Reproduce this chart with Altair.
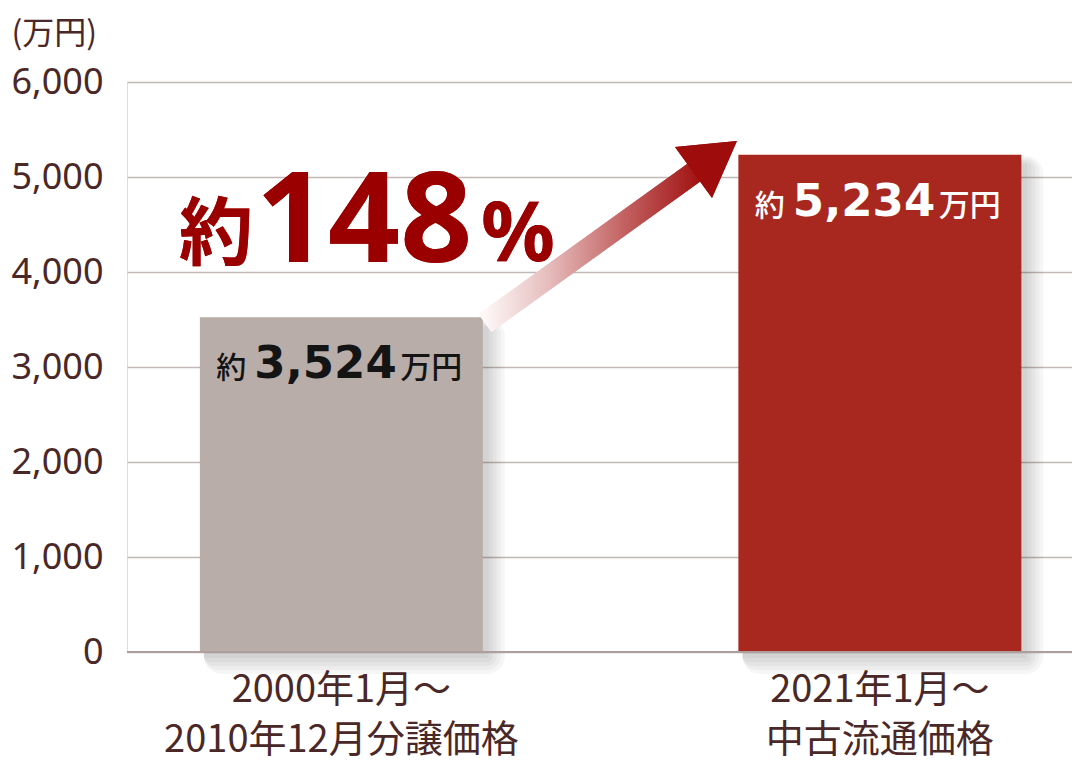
import altair as alt
import pandas as pd

# ---- data ----
categories = ["2000年1月～\n2010年12月分譲価格", "2021年1月～\n中古流通価格"]
values = [3524, 5234]
value_text = ["3,524", "5,234"]
pct_text = "148"
y_ticks = [0, 1000, 2000, 3000, 4000, 5000, 6000]

# ---- styles ----
bar_colors = ["#b8ada8", "#a8281f"]
label_colors = ["#141414", "#ffffff"]
text_brown = "#4a2828"
grid_col = "#c4b8b6"
accent = "#9b0000"

df = pd.DataFrame({
    "category": categories,
    "value": values,
    "vtext": value_text,
    "lcolor": label_colors,
})

W, H = 945, 570
xscale = alt.Scale(domain=categories, paddingInner=0.4745, paddingOuter=0.1147, align=0.59)
yscale = alt.Scale(domain=[0, 6000], nice=False)

X = alt.X("category:N", scale=xscale, sort=categories,
          axis=alt.Axis(title=None, labelAngle=0, domain=False, ticks=False,
                        labelExpr="split(datum.label, '\\n')",
                        labelFont="Noto Sans CJK JP", labelFontSize=38,
                        labelColor=text_brown, labelLineHeight=50,
                        labelPadding=19, labelLimit=600))
Y = alt.Y("value:Q", scale=yscale,
          axis=alt.Axis(values=y_ticks, labelExpr="format(datum.value, ',')",
                        title="(万円)", titleAngle=0, titleAlign="left",
                        titleBaseline="middle", titleX=-116, titleY=-49,
                        titleFont="Noto Sans CJK JP", titleFontSize=32,
                        titleFontWeight="normal", titleColor=text_brown,
                        labelFont="Noto Sans", labelFontSize=36, labelColor=text_brown,
                        labelPadding=24, domain=False, ticks=False,
                        grid=True, gridColor=grid_col, gridWidth=1.5))

base = alt.Chart(df)

# soft drop shadows
shadows = []
for k in [2, 6, 10, 14, 18]:
    shadows.append(
        base.mark_bar(color="#000000", opacity=0.035, cornerRadius=k,
                      width=283 + k, xOffset=4 + k / 2, yOffset=10 - k / 2, y2Offset=4 + k)
        .encode(x=X, y=Y, y2=alt.datum(0))
    )

bars = base.mark_bar(width=283).encode(
    x=X, y=Y,
    color=alt.Color("category:N", scale=alt.Scale(domain=categories, range=bar_colors), legend=None),
)

baseline = base.mark_rule(color="#ae9e9e", strokeWidth=2).encode(y=alt.datum(0))

lab_yaku = base.mark_text(align="left", baseline="alphabetic", dx=-125, dy=61,
                          font="Noto Sans CJK JP", fontSize=30, fontWeight=500, text="約").encode(
    x=X, y=Y, color=alt.Color("lcolor:N", scale=None))
lab_num = base.mark_text(align="left", baseline="alphabetic", dx=-87, dy=61,
                         font="DejaVu Sans", fontSize=45, fontWeight="bold").encode(
    x=X, y=Y, text="vtext:N", color=alt.Color("lcolor:N", scale=None))
lab_unit = base.mark_text(align="left", baseline="alphabetic", dx=59, dy=61,
                          font="Noto Sans CJK JP", fontSize=31, fontWeight=500, text="万円").encode(
    x=X, y=Y, color=alt.Color("lcolor:N", scale=None))

# arrow (annotation geometry: plot pixels horizontally, data units vertically)
shaft = base.mark_rule(
    strokeWidth=22, strokeCap="butt",
    stroke=alt.LinearGradient(
        gradient="linear", x1=0, y1=0, x2=1, y2=0,
        stops=[alt.GradientStop(color="#fdf7f7", offset=0),
               alt.GradientStop(color="#e6bcbc", offset=0.3),
               alt.GradientStop(color="#c36262", offset=0.65),
               alt.GradientStop(color="#a21414", offset=1)])
).encode(x=alt.value(358), x2=alt.value(571), y=alt.datum(3463), y2=alt.datum(5078))

head = base.mark_point(
    shape="M0,-1L0.587,0L-0.587,0Z", filled=True, fill="#9e0c0c", opacity=1,
    strokeWidth=0, size=11535, angle=54
).encode(x=alt.value(566.5), y=alt.datum(5047))

big_yaku = base.mark_text(align="left", baseline="alphabetic", font="Noto Sans CJK JP",
                          fontSize=74, fontWeight="bold", color=accent, text="約").encode(
    x=alt.value(52), y=alt.datum(4140))
big_num = base.mark_text(align="left", baseline="alphabetic", font="Noto Sans",
                         fontSize=126, fontWeight="bold", color=accent, text=pct_text).encode(
    x=alt.value(129), y=alt.datum(4105))
big_pct = base.mark_text(align="left", baseline="alphabetic", font="Noto Sans",
                         fontSize=82, fontWeight="bold", color=accent, text="%").encode(
    x=alt.value(354), y=alt.datum(4120))

chart = alt.layer(
    *shadows, bars, baseline, shaft, head, lab_yaku, lab_num, lab_unit,
    big_yaku, big_num, big_pct
).properties(
    width=W, height=H,
    autosize=alt.AutoSizeParams(type="none"),
    padding={"left": 119, "top": 74, "right": 0, "bottom": 110},
).configure_view(stroke=None).configure(background="#ffffff")

chart.save("out.html", embed_options={"renderer": "svg", "actions": False})
